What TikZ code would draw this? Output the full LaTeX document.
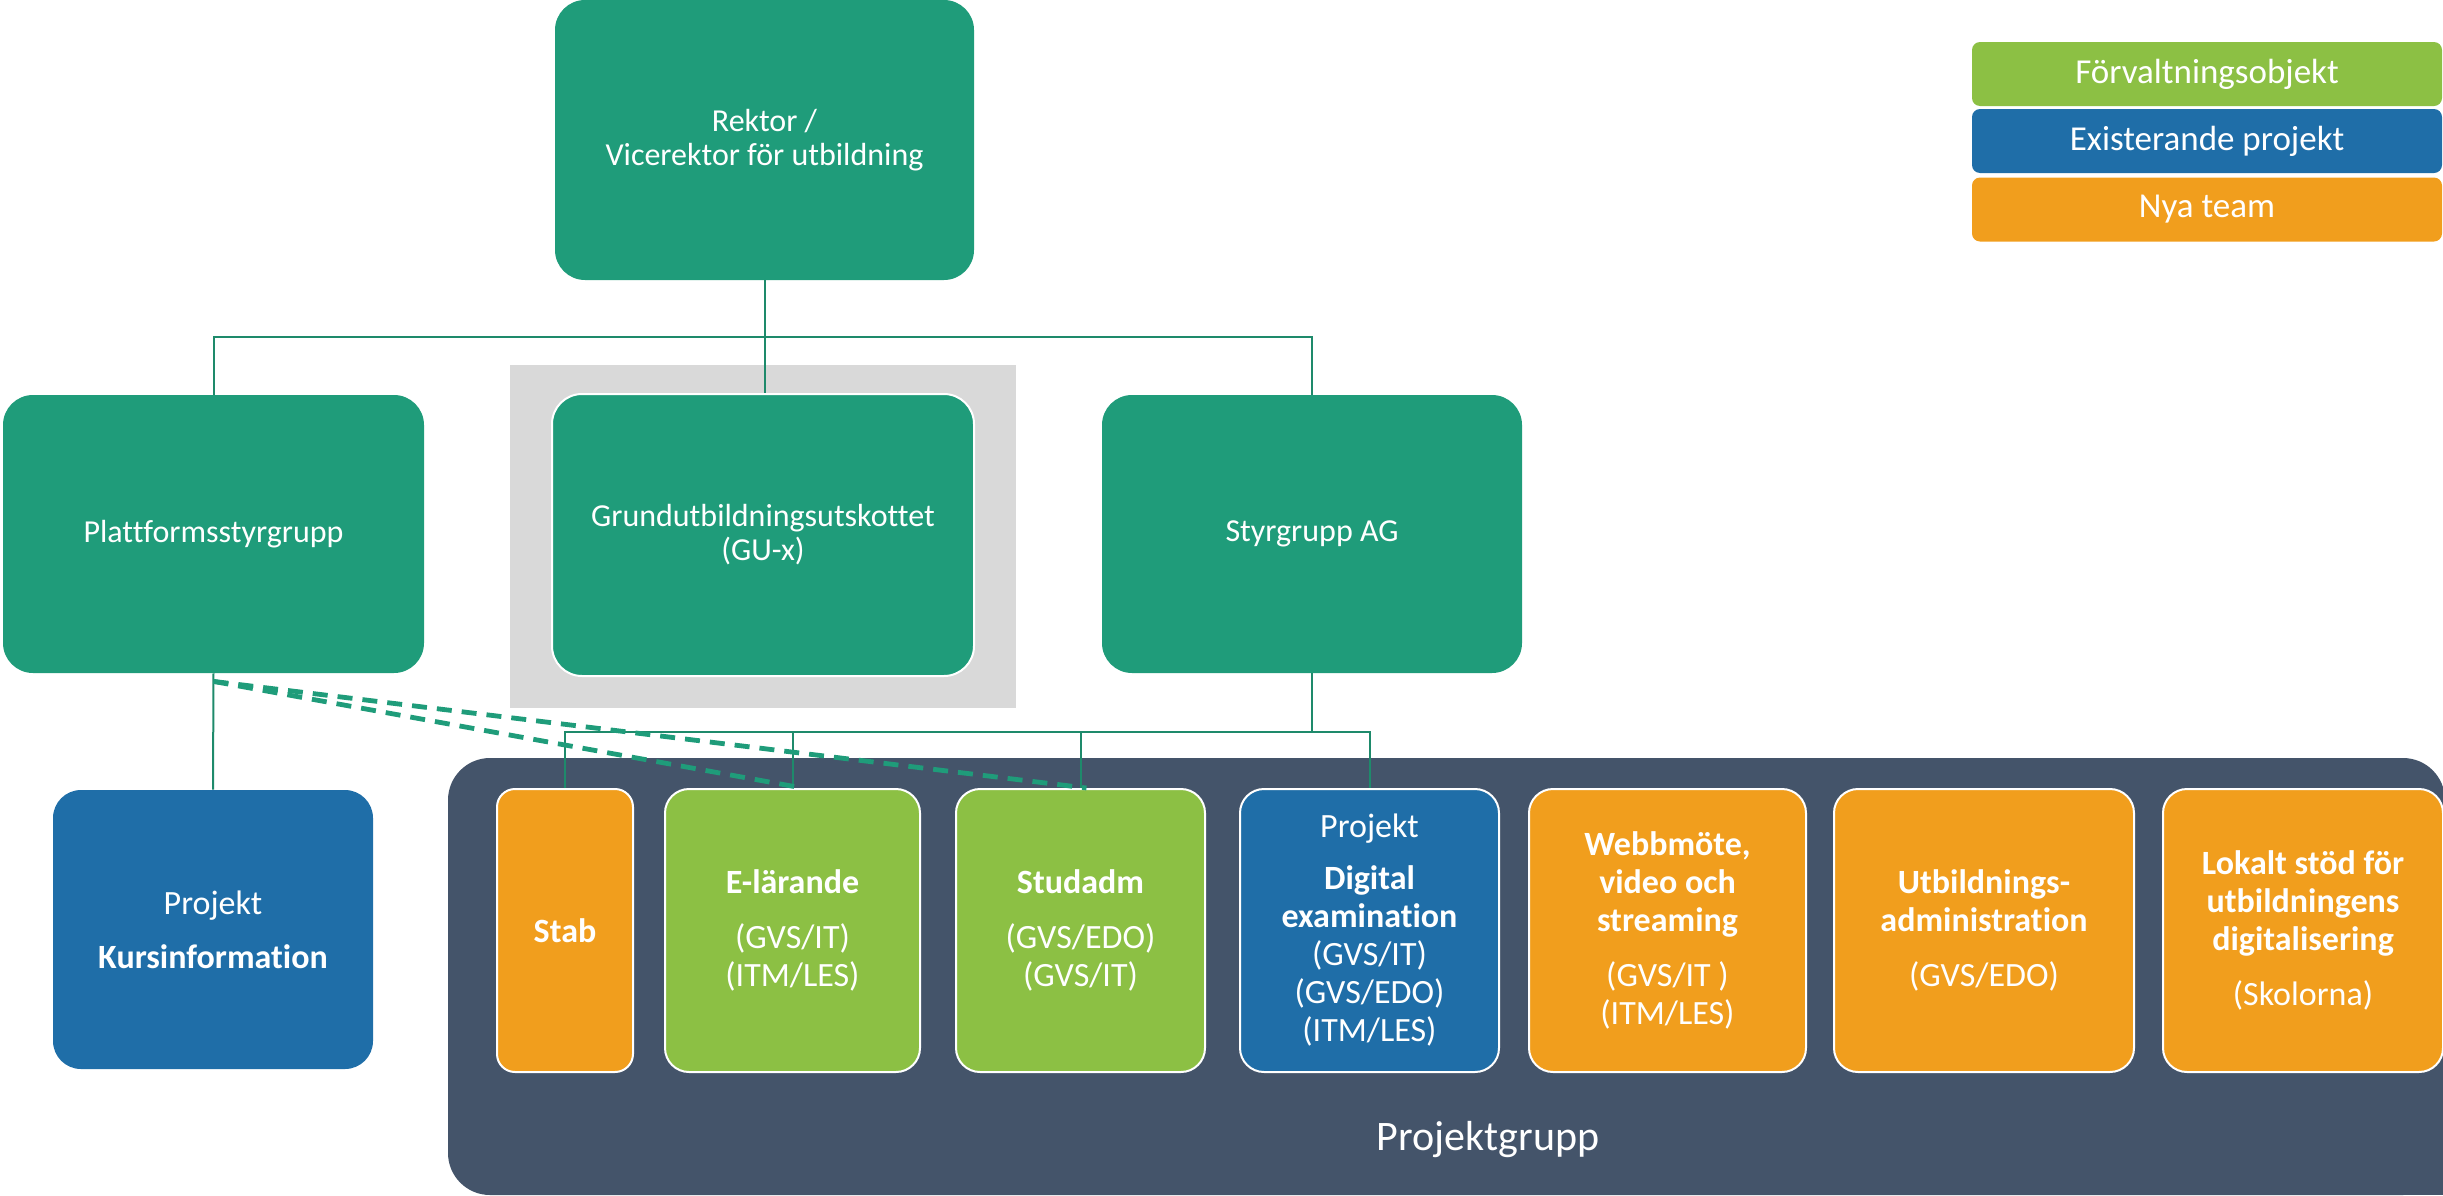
\documentclass[tikz,border=0pt]{standalone}
\usepackage{fontspec}
\setmainfont{Carlito}[Ligatures=NoCommon]

\definecolor{vertfonce}{HTML}{1F9C7A}
\definecolor{traitvert}{HTML}{1E8A6B}
\definecolor{bleuprojet}{HTML}{1F6EA8}
\definecolor{vertclair}{HTML}{8CC044}
\definecolor{orangeteam}{HTML}{F19E1D}
\definecolor{ardoise}{HTML}{44546A}
\definecolor{grisfond}{HTML}{D9D9D9}

\tikzset{
  chef/.style={rectangle, rounded corners=15pt, fill=vertfonce, text=white,
    align=center, inner sep=0pt, font=\fontsize{16}{17}\selectfont},
  equipe/.style={rectangle, rounded corners=12pt, draw=white, line width=1pt,
    text=white, align=center, inner sep=0pt, minimum height=141.5pt,
    font=\fontsize{17}{19}\selectfont},
  legende/.style={rectangle, rounded corners=4pt, text=white, inner sep=0pt,
    minimum width=235pt, minimum height=32pt, font=\fontsize{17.5}{19}\selectfont},
  lien/.style={draw=traitvert, line width=1pt},
  pointille/.style={draw=vertfonce, line width=2.4pt, dash pattern=on 7.5pt off 5pt},
}

\begin{document}
\begin{tikzpicture}[x=0.5pt,y=-0.5pt]

\useasboundingbox (0,0) rectangle (2443,1195);

% fonds
\fill[grisfond] (510,365) rectangle (1016,708);
\fill[ardoise, rounded corners=21pt] (448,758) rectangle (2445,1195);
\fill[ardoise] (2400,1150) rectangle (2445,1195);
\node[text=white, font=\fontsize{21}{24}\selectfont] (titregroupe) at (1488,1140) {Projektgrupp};

% direction
\node[chef, minimum width=209.5pt, minimum height=140pt] (rektor) at (764.5,140)
  {Rektor /\\Vicerektor för utbildning};
\node[chef, minimum width=210.5pt, minimum height=139pt] (platt) at (213.5,534)
  {Plattformsstyrgrupp};
\node[chef, draw=white, line width=1pt, minimum width=211pt, minimum height=141pt] (grund) at (763,535)
  {Grundutbildningsutskottet\\(GU-x)};
\node[chef, minimum width=210pt, minimum height=139pt] (styr) at (1312,534)
  {Styrgrupp AG};

% projet a gauche
\node[chef, rounded corners=14pt, fill=bleuprojet, minimum width=160pt, minimum height=139.5pt,
  font=\fontsize{17}{19}\selectfont] (kurs) at (213,929.5)
  {Projekt\\[8pt]\textbf{Kursinformation}};

% equipes du projektgrupp
\node[equipe, rounded corners=9pt, fill=orangeteam, minimum width=68pt] (stab) at (565,930.5)
  {\textbf{Stab}};
\node[equipe, fill=vertclair, minimum width=127.5pt] (elar) at (792.5,930.5)
  {\textbf{E-lärande}\\[8.5pt](GVS/IT)\\(ITM/LES)};
\node[equipe, fill=vertclair, minimum width=124.5pt] (stud) at (1080.5,930.5)
  {\textbf{Studadm}\\[8.5pt](GVS/EDO)\\(GVS/IT)};
\node[equipe, fill=bleuprojet, minimum width=129.5pt] (digi) at (1369.5,930.5)
  {Projekt\\[7pt]\textbf{Digital}\\\textbf{examination}\\(GVS/IT)\\(GVS/EDO)\\(ITM/LES)};
\node[equipe, fill=orangeteam, minimum width=138.5pt] (webb) at (1667.5,930.5)
  {\textbf{Webbmöte,}\\\textbf{video och}\\\textbf{streaming}\\[8.5pt](GVS/IT )\\(ITM/LES)};
\node[equipe, fill=orangeteam, minimum width=150pt] (utb) at (1984,930.5)
  {\textbf{Utbildnings-}\\\textbf{administration}\\[8.5pt](GVS/EDO)};
\node[equipe, fill=orangeteam, minimum width=140pt] (lokalt) at (2303,930.5)
  {\textbf{Lokalt stöd för}\\\textbf{utbildningens}\\\textbf{digitalisering}\\[8.5pt](Skolorna)};

% legende
\node[legende, fill=vertclair] (legvert) at (2207,74) {Förvaltningsobjekt};
\node[legende, fill=bleuprojet] (legbleu) at (2207,141) {Existerande projekt};
\node[legende, fill=orangeteam] (legorange) at (2207,209.5) {Nya team};

% liaisons
\coordinate (bus1) at (764.5,337);
\coordinate (bus2) at (1312,732);
\draw[lien] (rektor.south) -- (bus1);
\draw[lien] (platt.north) |- (bus1) -| (styr.north);
\draw[lien] (bus1) -- (bus1 |- grund.north);
\draw[lien] (platt.south) -- (kurs.north);
\draw[lien] (styr.south) -- (bus2);
\draw[lien] (stab.north) |- (bus2) -| (digi.north);
\draw[lien] (elar.north) -- (elar.north |- bus2);
\draw[lien] (stud.north) -- (stud.north |- bus2);

% liens pointilles
\draw[pointille] ([yshift=-4pt]platt.south) -- ([xshift=5pt]elar.north);
\draw[pointille] ([yshift=-4pt]platt.south) -- ([xshift=3pt]stud.north);

\end{tikzpicture}
\end{document}
